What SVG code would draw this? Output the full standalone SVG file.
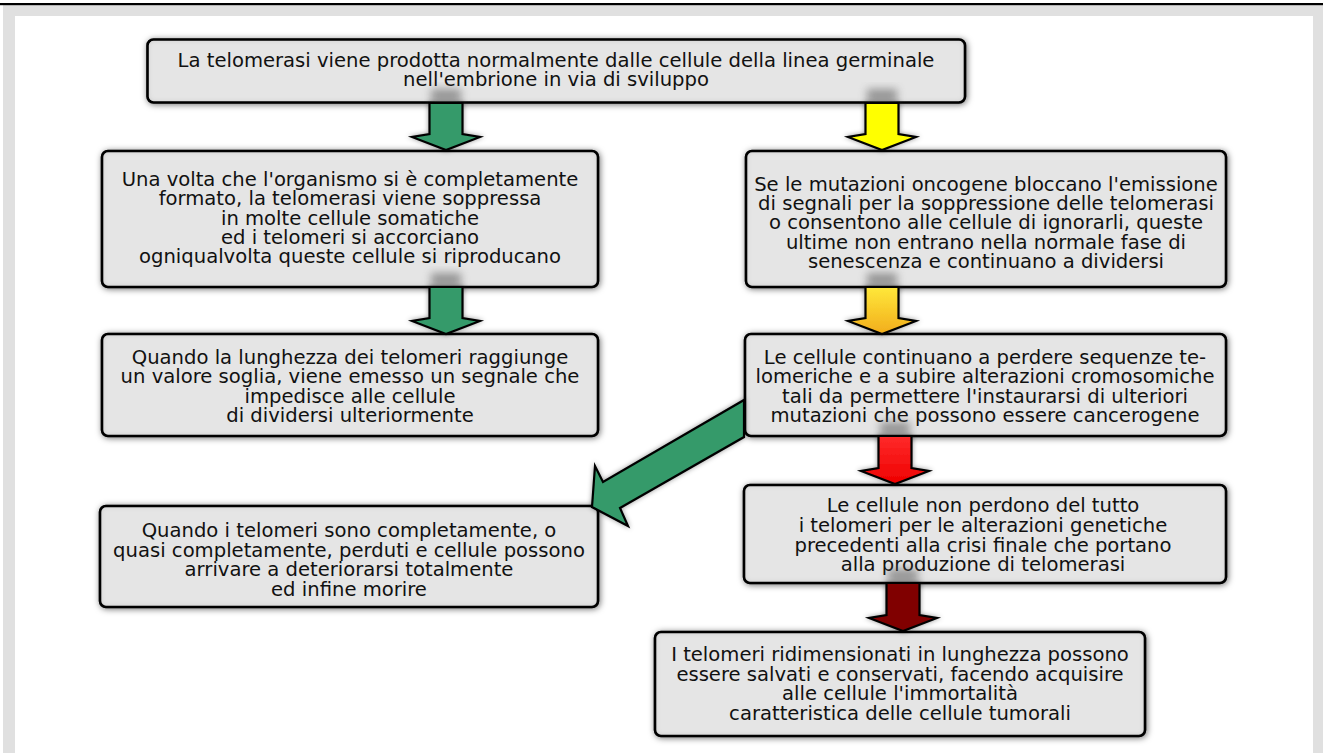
<svg xmlns="http://www.w3.org/2000/svg" width="1323" height="753" viewBox="0 0 1323 753">
<style>
.box{fill:#e5e5e5;stroke:#000;stroke-width:2.6;filter:url(#boxf)}
.t{font-family:"DejaVu Sans",sans-serif;font-size:19.6px;fill:#111;text-anchor:middle}
.arr{stroke:#000;stroke-width:2.2;stroke-linejoin:miter;filter:url(#arrf)}
.sh{fill:#555;opacity:0.55;filter:url(#blur)}
</style>
<defs>
<filter id="boxf" x="-10%" y="-20%" width="120%" height="140%">
<feGaussianBlur in="SourceAlpha" stdDeviation="3" result="b"/>
<feOffset in="b" dx="1" dy="1" result="ob"/>
<feFlood flood-color="#000" flood-opacity="0.55"/>
<feComposite in2="ob" operator="in" result="drop"/>
<feComposite in="SourceAlpha" in2="b" operator="out" result="inv"/>
<feFlood flood-color="#000" flood-opacity="0.5"/>
<feComposite in2="inv" operator="in" result="inner"/>
<feMerge><feMergeNode in="drop"/><feMergeNode in="SourceGraphic"/><feMergeNode in="inner"/></feMerge>
</filter>
<filter id="arrf" x="-30%" y="-30%" width="160%" height="160%">
<feGaussianBlur in="SourceAlpha" stdDeviation="2.5" result="b"/>
<feFlood flood-color="#000" flood-opacity="0.4"/>
<feComposite in2="b" operator="in" result="drop"/>
<feMerge><feMergeNode in="drop"/><feMergeNode in="SourceGraphic"/></feMerge>
</filter>
<filter id="blur" x="-50%" y="-50%" width="200%" height="200%"><feGaussianBlur stdDeviation="4"/></filter>
<linearGradient id="gold" x1="0" y1="0" x2="0" y2="1"><stop offset="0" stop-color="#ffe83a"/><stop offset="1" stop-color="#f2ad1c"/></linearGradient>
<linearGradient id="red" x1="0" y1="0" x2="0" y2="1"><stop offset="0" stop-color="#ff2a2a"/><stop offset="1" stop-color="#ee0000"/></linearGradient>
</defs>

<g id="frame">
<rect x="0" y="0" width="1323" height="753" fill="#fff"/>
<rect x="3" y="5" width="1320" height="748" fill="#e0e0e0"/>
<rect x="15" y="16" width="1298" height="737" fill="#fff"/>
<rect x="0" y="3" width="1323" height="2.2" fill="#000"/>
</g>

<g id="n1"><rect class="box" x="147.5" y="39.5" width="817.5" height="63" rx="6"/>
<text class="t" x="556" y="67">La telomerasi viene prodotta normalmente dalle cellule della linea germinale</text>
<text class="t" x="556" y="86">nell'embrione in via di sviluppo</text></g>

<g id="n2"><rect class="box" x="102" y="151" width="496" height="136" rx="6"/>
<text class="t" x="350" y="186">Una volta che l'organismo si è completamente</text>
<text class="t" x="350" y="205">formato, la telomerasi viene soppressa</text>
<text class="t" x="350" y="224.5">in molte cellule somatiche</text>
<text class="t" x="350" y="244">ed i telomeri si accorciano</text>
<text class="t" x="350" y="263">ogniqualvolta queste cellule si riproducano</text></g>

<g id="n3"><rect class="box" x="102" y="334" width="496" height="102" rx="6"/>
<text class="t" x="350" y="364">Quando la lunghezza dei telomeri raggiunge</text>
<text class="t" x="350" y="383">un valore soglia, viene emesso un segnale che</text>
<text class="t" x="350" y="403">impedisce alle cellule</text>
<text class="t" x="350" y="422">di dividersi ulteriormente</text></g>

<g id="n4"><rect class="box" x="100" y="506" width="498" height="101" rx="6"/>
<text class="t" x="349" y="537">Quando i telomeri sono completamente, o</text>
<text class="t" x="349" y="557">quasi completamente, perduti e cellule possono</text>
<text class="t" x="349" y="576">arrivare a deteriorarsi totalmente</text>
<text class="t" x="349" y="596">ed infine morire</text></g>

<g id="n5"><rect class="box" x="746" y="151" width="480" height="136" rx="6"/>
<text class="t" x="986" y="191">Se le mutazioni oncogene bloccano l'emissione</text>
<text class="t" x="986" y="210">di segnali per la soppressione delle telomerasi</text>
<text class="t" x="986" y="229">o consentono alle cellule di ignorarli, queste</text>
<text class="t" x="986" y="249">ultime non entrano nella normale fase di</text>
<text class="t" x="986" y="268">senescenza e continuano a dividersi</text></g>

<g id="n6"><rect class="box" x="745" y="334" width="481" height="102" rx="6"/>
<text class="t" x="985" y="364">Le cellule continuano a perdere sequenze te-</text>
<text class="t" x="985" y="383">lomeriche e a subire alterazioni cromosomiche</text>
<text class="t" x="985" y="403">tali da permettere l'instaurarsi di ulteriori</text>
<text class="t" x="985" y="422">mutazioni che possono essere cancerogene</text></g>

<g id="n7"><rect class="box" x="744" y="485" width="482" height="98" rx="6"/>
<text class="t" x="983" y="512">Le cellule non perdono del tutto</text>
<text class="t" x="983" y="532">i telomeri per le alterazioni genetiche</text>
<text class="t" x="983" y="552">precedenti alla crisi finale che portano</text>
<text class="t" x="983" y="571">alla produzione di telomerasi</text></g>

<g id="n8"><rect class="box" x="655" y="632" width="490" height="104" rx="6"/>
<text class="t" x="900" y="661">I telomeri ridimensionati in lunghezza possono</text>
<text class="t" x="900" y="681">essere salvati e conservati, facendo acquisire</text>
<text class="t" x="900" y="700">alle cellule l'immortalità</text>
<text class="t" x="900" y="720">caratteristica delle cellule tumorali</text></g>

<g id="connectors">
<rect class="sh" x="431" y="89" width="30" height="14"/>
<path class="arr" fill="#349a6b" d="M429.5,103 L462.5,103 L462.5,134 L480,137 L446,150 L412,137 L429.5,134 Z"/>
<rect class="sh" x="867" y="89" width="30" height="14"/>
<path class="arr" fill="#ffff00" d="M865.5,103 L898.5,103 L898.5,134 L916,137 L882,150 L848,137 L865.5,134 Z"/>
<rect class="sh" x="431" y="273" width="30" height="14"/>
<path class="arr" fill="#349a6b" d="M429.5,287 L462.5,287 L462.5,318 L480,321 L446,334 L412,321 L429.5,318 Z"/>
<rect class="sh" x="867" y="273" width="30" height="14"/>
<path class="arr" fill="url(#gold)" d="M865.5,287 L898.5,287 L898.5,318 L916,321 L882,334 L848,321 L865.5,318 Z"/>
<rect class="sh" x="880" y="422" width="30" height="14"/>
<path class="arr" fill="url(#red)" d="M878.5,436 L911.5,436 L911.5,468 L929,471 L895,484 L861,471 L878.5,468 Z"/>
<rect class="sh" x="888" y="569" width="30" height="14"/>
<path class="arr" fill="#800000" d="M886.5,583 L919.5,583 L919.5,615 L937,618 L903,631 L869,618 L886.5,615 Z"/>
<path class="arr" fill="#349a6b" d="M744,400 L744,437 L620,508 L628,526 L592,507 L595,466 L603,482 Z"/>
</g>
</svg>
